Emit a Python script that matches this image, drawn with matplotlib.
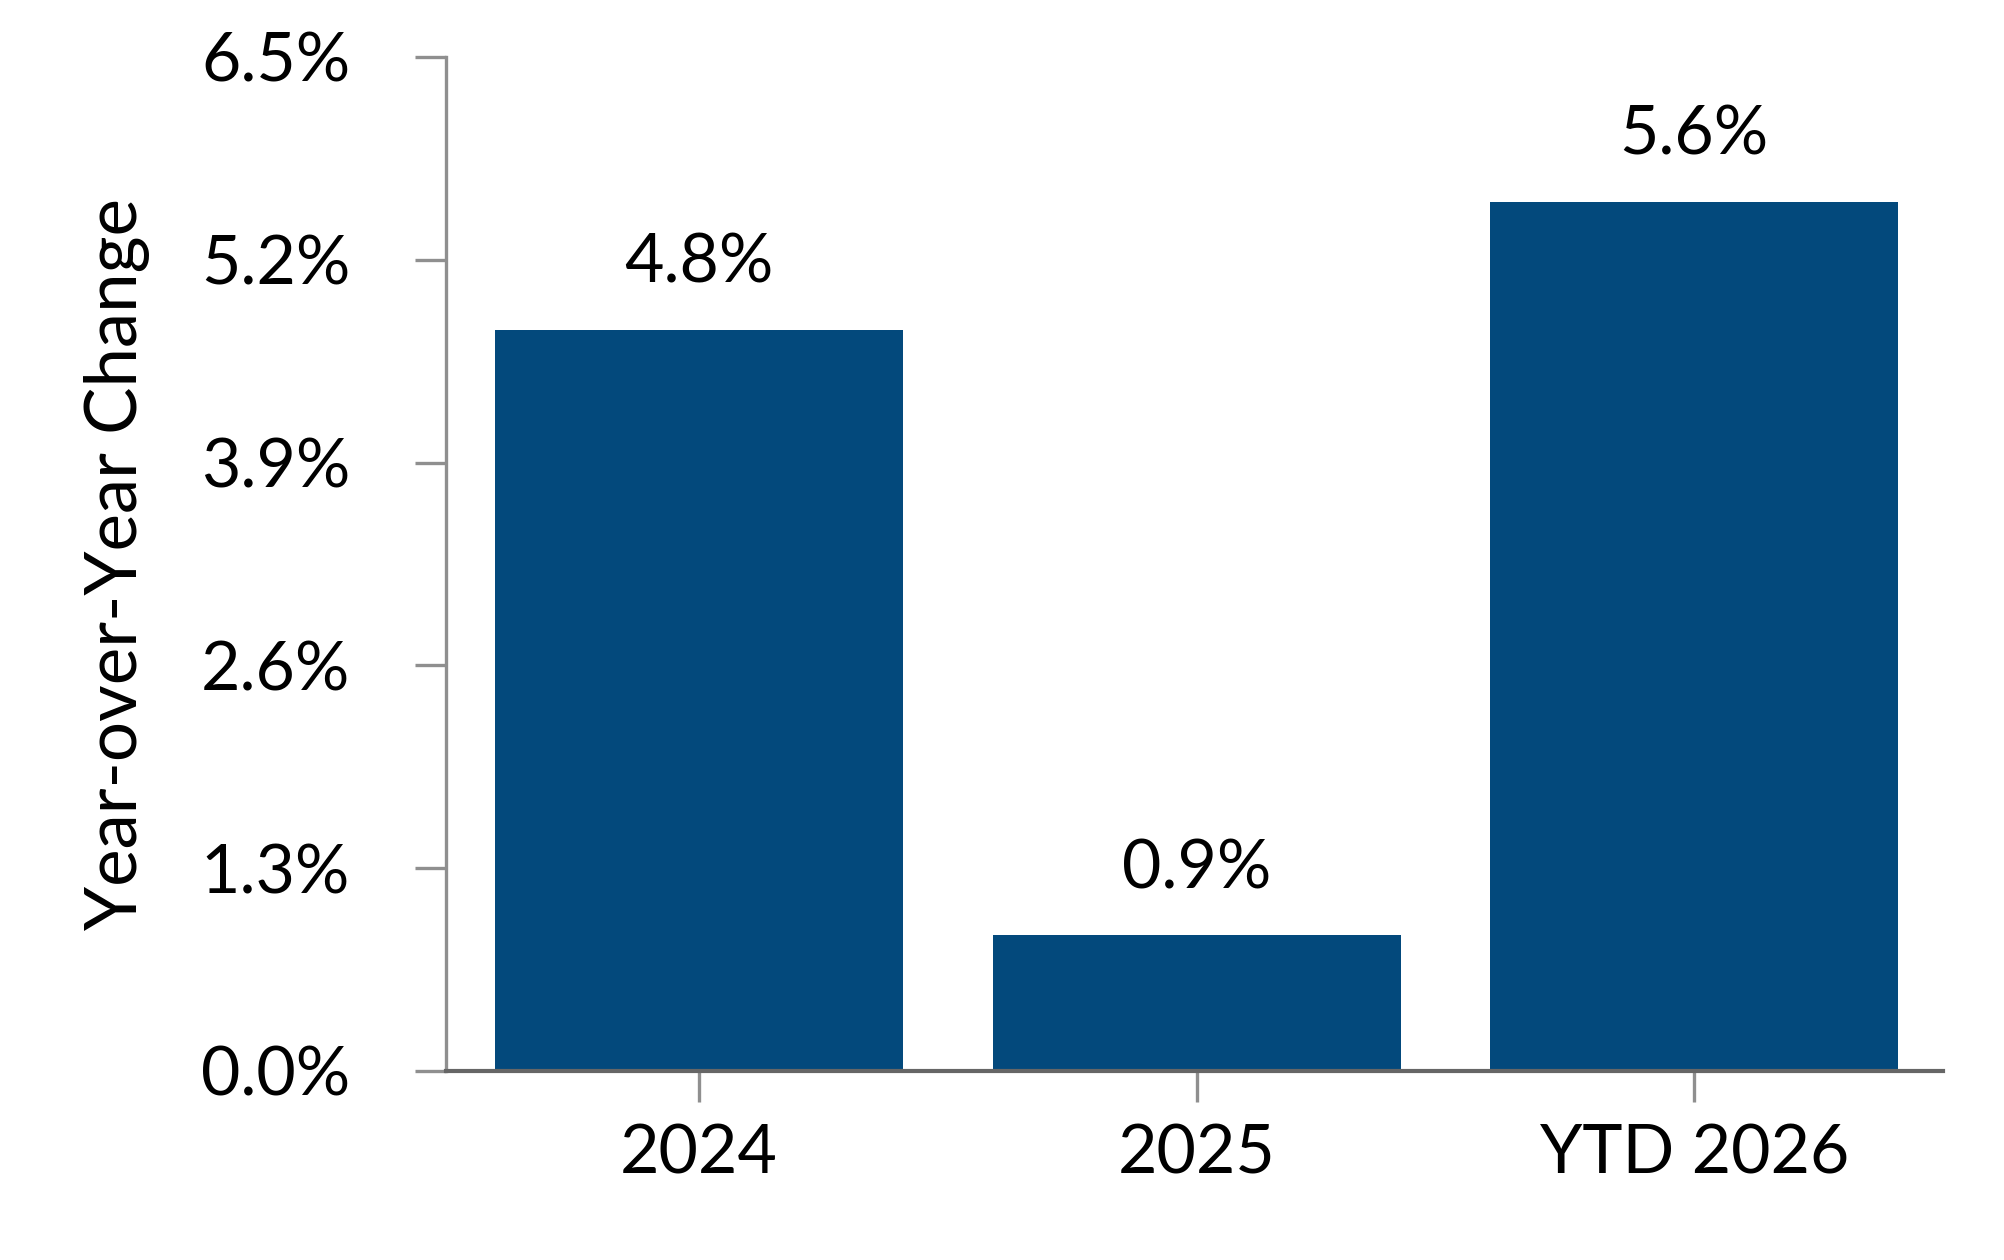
import matplotlib
matplotlib.use("Agg")
import matplotlib.pyplot as plt

categories = ["2024", "2025", "YTD 2026"]
values = [4.75, 0.87, 5.57]
bar_labels = ["4.8%", "0.9%", "5.6%"]
yticks = [0.0, 1.3, 2.6, 3.9, 5.2, 6.5]

bar_color = "#03497C"

plt.rcParams['font.family'] = ['Lato', 'DejaVu Sans']

fig = plt.figure(figsize=(20.04, 12.6), dpi=100)
ax = fig.add_axes([0.2226, 0.15, 0.747, 0.8048])

x = list(range(len(categories)))
ax.bar(x, values, width=0.82, color=bar_color, zorder=2)

# value labels above bars
for xi, v, lab in zip(x, values, bar_labels):
    ax.annotate(lab, (xi, v), xytext=(0, 34), textcoords="offset points",
                ha="center", va="baseline", fontsize=49, color="black")

ax.set_xlim(-0.508, 2.5)
ax.set_ylim(0, 6.5)
ax.set_yticks(yticks)
ax.set_yticklabels([f"{t:.1f}%" for t in yticks])
ax.set_xticks(x)
ax.set_xticklabels(categories)

ax.spines["top"].set_visible(False)
ax.spines["right"].set_visible(False)
ax.spines["left"].set_color("#8f8f8f")
ax.spines["left"].set_linewidth(2.4)
ax.spines["bottom"].set_color("#666666")
ax.spines["bottom"].set_linewidth(3)
ax.spines["bottom"].set_zorder(3)

ax.tick_params(axis="y", length=22, width=2.4, color="#8f8f8f", pad=47, labelsize=49)
ax.tick_params(axis="x", length=22, width=2.4, color="#8f8f8f", pad=16, labelsize=49)

ax.set_ylabel("Year-over-Year Change", fontsize=51)
ax.yaxis.set_label_coords(-0.198, 0.5)

fig.savefig("out.png", dpi=100)
